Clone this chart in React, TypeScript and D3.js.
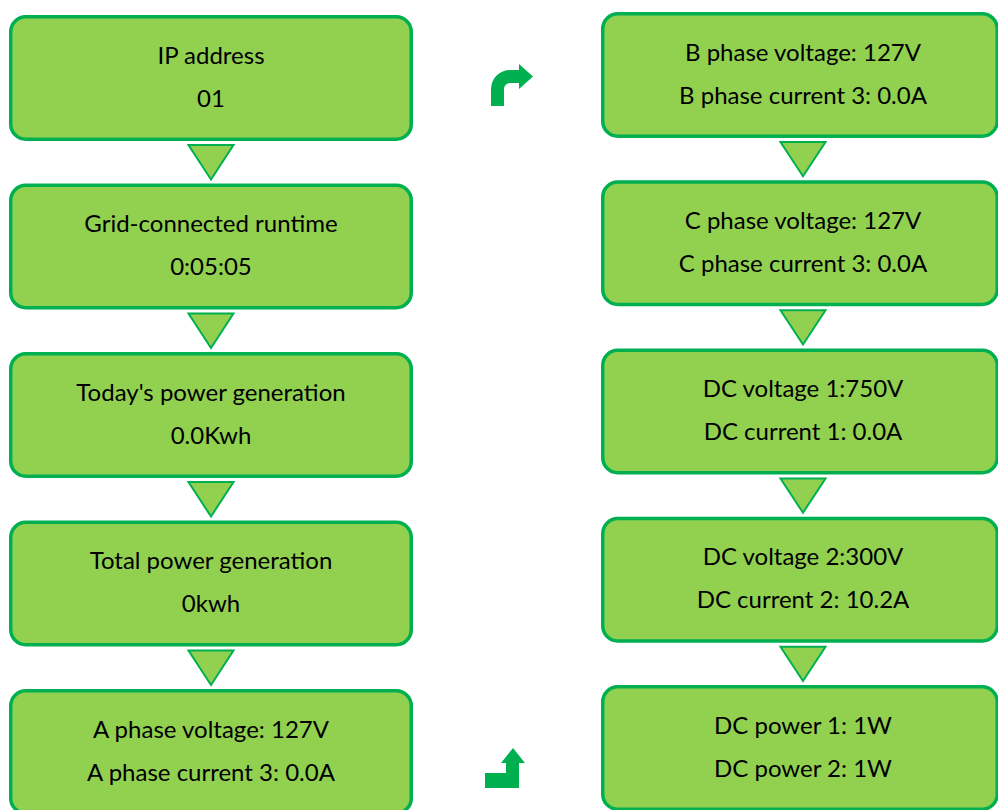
import React from "react";
import * as d3 from "d3";

// ---- data ----
const leftLine1 = [
  "IP address",
  "Grid-connected runtime",
  "Today's power generation",
  "Total power generation",
  "A phase voltage: 127V",
];
const leftLine2 = ["01", "0:05:05", "0.0Kwh", "0kwh", "A phase current 3: 0.0A"];
const rightLine1 = [
  "B phase voltage: 127V",
  "C phase voltage: 127V",
  "DC voltage 1:750V",
  "DC voltage 2:300V",
  "DC power 1: 1W",
];
const rightLine2 = [
  "B phase current 3: 0.0A",
  "C phase current 3: 0.0A",
  "DC current 1: 0.0A",
  "DC current 2: 10.2A",
  "DC power 2: 1W",
];

// ---- layout ----
const W = 998;
const H = 810;
const BOX_H = 126;
const STROKE = 3.5;
const FILL = "#92D050";
const EDGE = "#00B050";
const FONT = "Lato, 'Open Sans', sans-serif";
const FONT_SIZE = 24;

const idx = d3.range(5);
const leftY = d3.scaleLinear().domain([0, 4]).range([15, 689]);
const rightY = d3.scaleLinear().domain([0, 4]).range([12, 685]);
const LEFT_X = 9;
const RIGHT_X = 601;

function Column({
  x,
  boxW,
  yScale,
  l1,
  l2,
}: {
  x: number;
  boxW: number;
  yScale: d3.ScaleLinear<number, number>;
  l1: string[];
  l2: string[];
}) {
  const cx = x + 202;
  const triW = 45;
  return (
    <g>
      {idx.map((i) => {
        const top = yScale(i);
        const cy = top + BOX_H / 2;
        return (
          <g key={i}>
            <rect
              x={x + STROKE / 2}
              y={top + STROKE / 2}
              width={boxW - STROKE}
              height={BOX_H - STROKE}
              rx={15}
              ry={15}
              fill={FILL}
              stroke={EDGE}
              strokeWidth={STROKE}
            />
            <text
              x={cx}
              y={cy - 14.5}
              textAnchor="middle"
              fontFamily={FONT}
              fontSize={FONT_SIZE}
              fill="#000"
            >
              {l1[i]}
            </text>
            <text
              x={cx}
              y={cy + 28.5}
              textAnchor="middle"
              fontFamily={FONT}
              fontSize={FONT_SIZE}
              fill="#000"
            >
              {l2[i]}
            </text>
          </g>
        );
      })}
      {idx.slice(0, 4).map((i) => {
        const t = yScale(i) + BOX_H + 4;
        const b = yScale(i + 1) - 4;
        const p = d3.path();
        p.moveTo(cx - triW / 2, t);
        p.lineTo(cx + triW / 2, t);
        p.lineTo(cx, b);
        p.closePath();
        return (
          <path
            key={"t" + i}
            d={p.toString()}
            fill={FILL}
            stroke={EDGE}
            strokeWidth={2}
            strokeLinejoin="miter"
          />
        );
      })}
    </g>
  );
}

function TurnArrow() {
  const p = d3.path();
  p.moveTo(491, 106);
  p.lineTo(491, 89);
  p.arcTo(491, 70, 510, 70, 19);
  p.lineTo(519, 70);
  p.lineTo(519, 64);
  p.lineTo(533, 76.5);
  p.lineTo(519, 89);
  p.lineTo(519, 83);
  p.lineTo(510, 83);
  p.arcTo(504, 83, 504, 89, 6);
  p.lineTo(504, 106);
  p.closePath();
  return <path d={p.toString()} fill={EDGE} />;
}

function UpArrow() {
  const p = d3.path();
  p.moveTo(485, 773);
  p.lineTo(506, 773);
  p.lineTo(506, 763);
  p.lineTo(501, 763);
  p.lineTo(513, 748);
  p.lineTo(525, 763);
  p.lineTo(519, 763);
  p.lineTo(519, 788);
  p.lineTo(485, 788);
  p.closePath();
  return <path d={p.toString()} fill={EDGE} />;
}

export default function App() {
  return (
    <svg
      width={W}
      height={H}
      style={{ position: "fixed", left: 0, top: 0, background: "#fff" }}
    >
      <rect width={W} height={H} fill="#fff" />
      <Column x={LEFT_X} boxW={404} yScale={leftY} l1={leftLine1} l2={leftLine2} />
      <Column x={RIGHT_X} boxW={398} yScale={rightY} l1={rightLine1} l2={rightLine2} />
      <TurnArrow />
      <UpArrow />
    </svg>
  );
}
